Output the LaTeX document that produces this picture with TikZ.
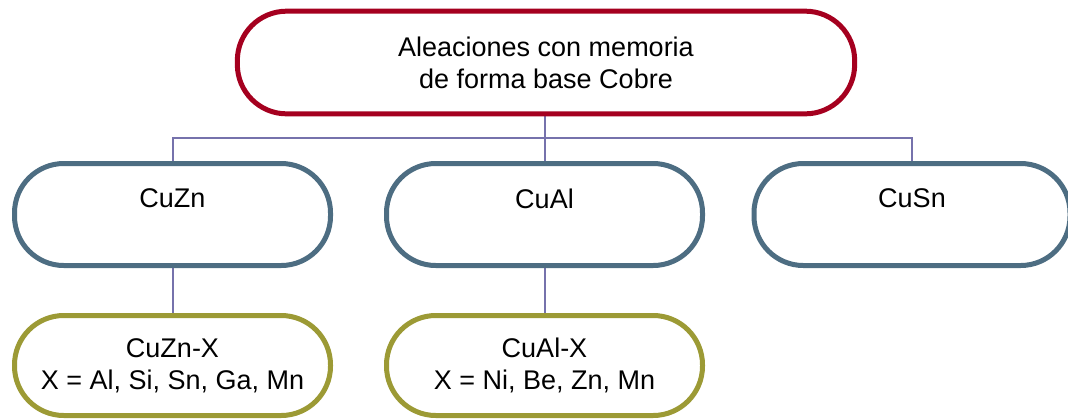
\documentclass[tikz,border=0pt]{standalone}
\usepackage{fontspec}
\setmainfont{Liberation Sans}
\usetikzlibrary{backgrounds}
\definecolor{topred}{HTML}{A5001F}
\definecolor{midblue}{HTML}{4D6D82}
\definecolor{olive}{HTML}{9C9A35}
\definecolor{conn}{HTML}{7672AC}
\begin{document}
\begin{tikzpicture}[x=0.75pt,y=-0.75pt,
  box/.style={rectangle, rounded corners=37pt, line width=3.75pt, fill=white,
    align=center, inner sep=0pt, font=\fontsize{20.25}{24}\selectfont},
  topbox/.style={box, draw=topred, minimum width=463pt, minimum height=77pt},
  midbox/.style={box, draw=midblue, minimum width=237pt, minimum height=76.5pt},
  lowbox/.style={box, draw=olive, minimum width=237pt, minimum height=75pt},
  link/.style={draw=conn, line width=1.5pt}]
\useasboundingbox (0,0) rectangle (1068,419);
\node[topbox] (top) at (546,62.5) {Aleaciones con memoria\\de forma base Cobre};
\node[midbox] (cuzn) at (172.5,214.5) {CuZn\\~};
\node[midbox] (cual) at (544.5,214.5) {CuAl\\~};
\node[midbox] (cusn) at (912,214.5) {CuSn\\~};
\node[lowbox] (cuznx) at (172.5,365.5) {CuZn-X\\X = Al, Si, Sn, Ga, Mn};
\node[lowbox] (cualx) at (544.5,365.5) {CuAl-X\\X = Ni, Be, Zn, Mn};
\coordinate (j) at (cual.north |- 0,138);
\begin{scope}[on background layer]
\draw[link] (top.south -| j) -- (j);
\draw[link] (cuzn.north) |- (j) -| (cusn.north);
\draw[link] (j) -- (cual.north);
\draw[link] (cuzn.south) -- (cuznx.north);
\draw[link] (cual.south) -- (cualx.north);
\end{scope}
\end{tikzpicture}
\end{document}
